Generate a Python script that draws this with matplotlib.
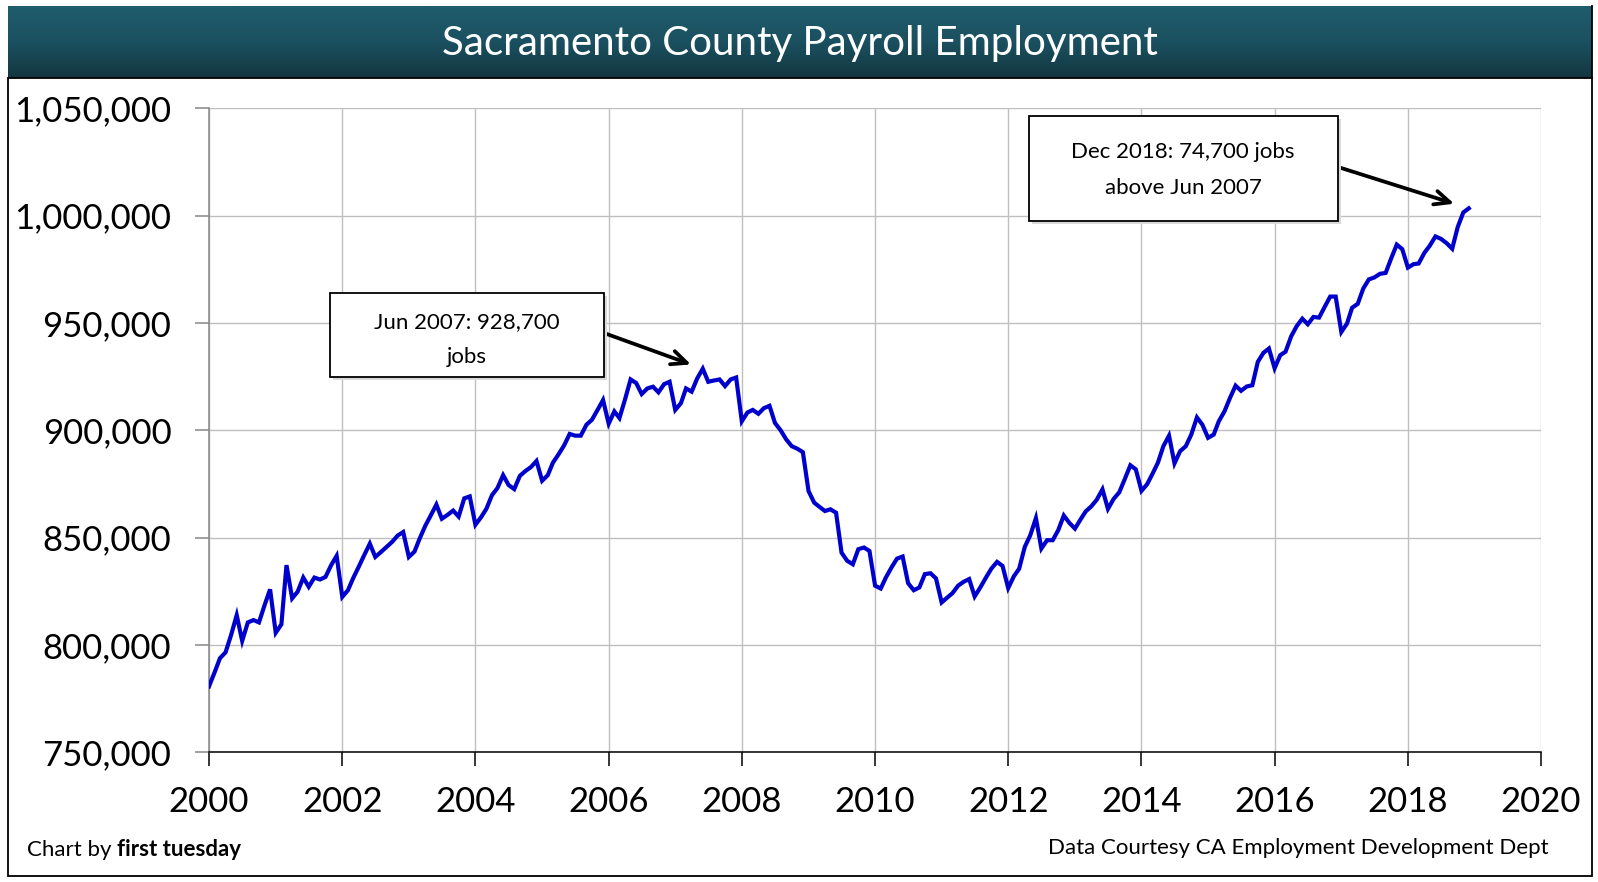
#!/usr/bin/env python3
"""Sacramento County payroll employment, monthly 2000-2018."""

import matplotlib
matplotlib.use("Agg")
import matplotlib.pyplot as plt
import matplotlib.dates as mdates
from matplotlib.colors import LinearSegmentedColormap
from matplotlib.patches import Rectangle
from matplotlib.ticker import FuncFormatter
import numpy as np
import pandas as pd

FONT = ["Lato", "DejaVu Sans"]
plt.rcParams["font.family"] = FONT

TITLE = "Sacramento County Payroll Employment"
START, END = "2000-01-01", "2018-12-01"

# monthly payroll jobs, thousands
jobs_k = [
    780.7, 787.3, 793.8, 796.6, 804.6, 813.9, 801.9, 810.5, 811.6, 810.5, 818.6, 825.9,  # 2000
    805.7, 809.6, 837.2, 821.7, 824.8, 831.4, 827.1, 831.4, 830.5, 831.7, 837.2, 841.5,  # 2001
    822.4, 825.5, 831.0, 836.4, 841.8, 847.2, 841.0, 843.3, 845.7, 848.0, 851.0, 852.6,  # 2002
    841.0, 843.5, 849.5, 855.5, 860.3, 865.4, 858.8, 860.6, 862.6, 859.8, 868.3, 869.2,  # 2003
    856.0, 859.5, 863.4, 869.8, 873.1, 879.1, 874.5, 872.6, 878.8, 881.0, 882.9, 885.7,  # 2004
    876.5, 879.1, 884.9, 888.8, 892.9, 898.3, 897.5, 897.5, 902.6, 904.9, 909.5, 914.1,  # 2005
    903.1, 908.8, 905.7, 914.5, 923.7, 922.0, 916.9, 919.5, 920.3, 917.7, 921.5, 922.6,  # 2006
    909.5, 912.6, 919.5, 918.0, 924.1, 928.7, 922.6, 923.2, 923.7, 920.6, 923.7, 924.6,  # 2007
    904.2, 908.3, 909.5, 907.7, 910.3, 911.4, 903.4, 900.0, 895.7, 892.6, 891.4, 889.8,  # 2008
    871.7, 866.3, 864.4, 862.4, 863.2, 861.6, 843.0, 839.2, 837.6, 844.6, 845.4, 843.8,  # 2009
    827.6, 826.3, 831.4, 836.1, 840.2, 841.2, 828.8, 825.5, 826.8, 833.0, 833.4, 831.0,  # 2010
    819.8, 822.1, 824.1, 827.6, 829.4, 830.7, 822.6, 826.8, 831.4, 835.6, 838.7, 836.8,  # 2011
    826.5, 832.0, 835.5, 845.7, 851.1, 859.1, 844.9, 848.8, 848.8, 853.4, 860.3, 856.9,  # 2012
    854.2, 858.5, 862.2, 864.6, 867.7, 872.5, 863.4, 868.0, 871.1, 877.2, 883.7, 881.8,  # 2013
    871.8, 874.9, 879.5, 884.9, 892.6, 897.5, 884.6, 890.3, 892.6, 898.0, 906.0, 902.6,  # 2014
    896.5, 898.0, 904.2, 908.8, 915.0, 920.8, 918.4, 920.4, 921.0, 931.9, 936.1, 938.1,  # 2015
    928.9, 935.0, 936.6, 943.8, 948.5, 952.0, 949.4, 952.8, 952.5, 957.4, 962.3, 962.3,  # 2016
    945.8, 949.7, 957.1, 958.9, 966.0, 970.3, 971.2, 972.9, 973.3, 980.0, 986.5, 984.4,  # 2017
    975.8, 977.4, 977.7, 982.6, 986.0, 990.3, 989.2, 987.2, 984.6, 994.6, 1001.5, 1003.4,  # 2018
]

y_ticks = [750000, 800000, 850000, 900000, 950000, 1000000, 1050000]
x_tick_years = [2000, 2002, 2004, 2006, 2008, 2010, 2012, 2014, 2016, 2018, 2020]

peak_date, peak_label = "2007-06-01", "Jun 2007: 928,700\njobs"
last_date, last_label = "2018-12-01", "Dec 2018: 74,700 jobs\nabove Jun 2007"

FOOT_LEFT = ("Chart by ", "first tuesday")
FOOT_RIGHT = "Data Courtesy CA Employment Development Dept"

W, H = 1598, 882


def fx(px):
    return px / W


def fy(py):
    # pixel row from the top -> figure fraction from the bottom
    return 1 - py / H


def main() -> None:
    series = pd.Series(np.array(jobs_k) * 1000, index=pd.date_range(START, END, freq="MS"))

    fig = plt.figure(figsize=(W / 100, H / 100), dpi=100)
    fig.patch.set_facecolor("white")

    # title bar
    bar = fig.add_axes([fx(8), fy(77.7), fx(1592 - 8), (77.7 - 6) / H])
    teal = LinearSegmentedColormap.from_list("teal", ["#1f5d6d", "#1b5060", "#133740"])
    bar.imshow(np.linspace(0, 1, 64).reshape(-1, 1), aspect="auto", cmap=teal,
               extent=[0, 1, 0, 1], origin="upper")
    bar.set_axis_off()
    bar.text(0.5, 0.48, TITLE, color="white", fontsize=29, ha="center", va="center",
             transform=bar.transAxes)

    # frame round the chart area
    fig.patches.append(Rectangle((fx(8), fy(876)), fx(1592 - 8), (876 - 77.7) / H,
                                 transform=fig.transFigure, fill=False,
                                 edgecolor="black", linewidth=1.3))
    fig.add_artist(plt.Line2D([fx(1592), fx(1592)], [fy(77.7), fy(6)],
                              transform=fig.transFigure, color="black", linewidth=1.3))

    ax = fig.add_axes([fx(209), fy(752.3), fx(1541 - 209), (752.3 - 108.3) / H])
    ax.plot(series.index, series.values, color="#0000cc", linewidth=3.0,
            solid_joinstyle="miter", zorder=3)

    ax.set_ylim(y_ticks[0], y_ticks[-1])
    ax.set_yticks(y_ticks)
    ax.yaxis.set_major_formatter(FuncFormatter(lambda v, _: f"{v:,.0f}"))
    ax.set_xlim(pd.Timestamp(f"{x_tick_years[0]}-01-01"), pd.Timestamp(f"{x_tick_years[-1]}-01-01"))
    ax.set_xticks([pd.Timestamp(f"{yr}-01-01") for yr in x_tick_years])
    ax.xaxis.set_major_formatter(mdates.DateFormatter("%Y"))

    ax.grid(True, color="#bfbfbf", linewidth=1.0)
    ax.set_axisbelow(True)
    for side in ("top", "right"):
        ax.spines[side].set_visible(False)
    ax.spines["left"].set_color("#868686")
    ax.spines["left"].set_linewidth(1.1)
    ax.spines["bottom"].set_color("black")
    ax.spines["bottom"].set_linewidth(1.1)
    ax.spines["bottom"].set_zorder(4)
    ax.tick_params(axis="y", length=10, width=1.1, color="#868686", pad=17, labelsize=25)
    ax.tick_params(axis="x", length=10, width=1.1, color="black", pad=14, labelsize=25)

    # callout boxes with arrows
    callouts = [
        (peak_date, peak_label, (329.6, 292.9, 604, 377), (466.6, 322.3, 356.8),
         (604, 333), 9),
        (last_date, last_label, (1028.9, 116.4, 1338, 220.5), (1183, 151.9, 188.4),
         (1338, 167), 11),
    ]
    for date, label, (x0, y0, x1, y1), (tx, ty1, ty2), start, shrink in callouts:
        fig.patches.append(Rectangle((fx(x0 + 3), fy(y1 + 3)), fx(x1 - x0), (y1 - y0) / H,
                                     transform=fig.transFigure, facecolor="#d9d9d9",
                                     edgecolor="none", zorder=5))
        fig.patches.append(Rectangle((fx(x0), fy(y1)), fx(x1 - x0), (y1 - y0) / H,
                                     transform=fig.transFigure, facecolor="white",
                                     edgecolor="black", linewidth=1.3, zorder=6))
        first, second = label.split("\n")
        fig.text(fx(tx), fy(ty1), first, fontsize=16, ha="center", va="center", zorder=7)
        fig.text(fx(tx), fy(ty2), second, fontsize=16, ha="center", va="center", zorder=7)
        point = pd.Timestamp(date)
        ax.annotate("", xy=(point, series[point]), xytext=(start[0], H - start[1]),
                    textcoords="figure pixels", annotation_clip=False,
                    arrowprops=dict(arrowstyle="->,head_length=1.1,head_width=0.5",
                                    color="black", linewidth=2.7, shrinkA=0, shrinkB=shrink,
                                    capstyle="round", joinstyle="round"))

    # footer
    renderer = fig.canvas.get_renderer()
    t1 = fig.text(fx(27), fy(850), FOOT_LEFT[0], fontsize=16, ha="left", va="center")
    bb = t1.get_window_extent(renderer)
    fig.text(bb.x1 / W, fy(850), FOOT_LEFT[1], fontsize=16, fontweight="bold",
             ha="left", va="center")
    fig.text(fx(1549), fy(848), FOOT_RIGHT, fontsize=16, ha="right", va="center")

    fig.savefig("out.png", dpi=100)
    plt.close(fig)


if __name__ == "__main__":
    main()
